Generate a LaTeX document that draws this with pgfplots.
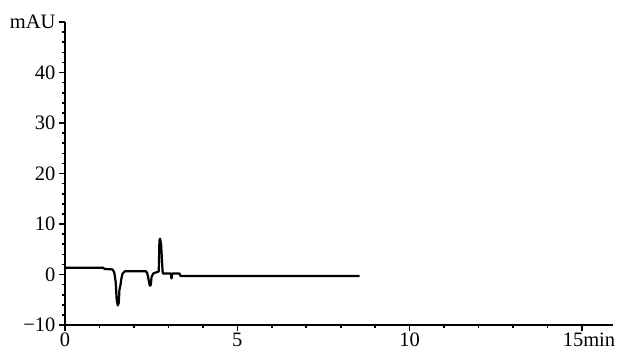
\documentclass[border=0pt]{standalone}
\usepackage{fontspec}
\setmainfont{Liberation Serif}
\usepackage{pgfplots}
\pgfplotsset{compat=1.18}
\begin{document}
\begin{tikzpicture}
\begin{axis}[
  scale only axis,
  width=548pt, height=303pt,
  xmin=0, xmax=15.9, ymin=-10, ymax=50,
  axis x line*=bottom, axis y line*=left,
  axis line style={-, line width=2pt},
  xtick={0,5,10,15}, xticklabels={0,5,10,\hspace*{14pt}15min},
  ytick={-10,0,10,20,30,40,50}, yticklabels={−10,0,10,20,30,40,mAU},
  minor x tick num=4, minor y tick num=4,
  tick align=outside,
  major tick length=6pt, minor tick length=2.5pt,
  every tick/.style={black, line width=1.6pt},
  tick label style={font=\fontsize{20.5}{24}\selectfont},
  xticklabel style={yshift=1.5pt},
  /pgf/number format/assume math mode=true,
  clip=false,
]
\addplot[black, line width=2.2pt, line join=round] coordinates {
(0,1.35) (1.1,1.35) (1.15,1.1) (1.38,1.0) (1.43,0.4) (1.47,-1.5) (1.5,-5.0) (1.53,-6.1) (1.56,-5.6)
(1.58,-3.0) (1.61,-2.1) (1.63,-1.0) (1.67,0.2) (1.74,0.65) (2.35,0.65) (2.39,0.2) (2.43,-1.2)
(2.46,-2.2) (2.49,-2.1) (2.51,-0.5) (2.56,0.2) (2.68,0.5) (2.72,0.6) (2.74,6.8) (2.76,7.1)
(2.79,5.8) (2.81,3.2) (2.83,0.8) (2.84,0.2) (3.07,0.2) (3.09,-0.8) (3.11,0.2) (3.32,0.2)
(3.35,-0.3) (8.55,-0.3)
};
\end{axis}
\pgfresetboundingbox
\useasboundingbox (-65pt,-28pt) rectangle (553pt,325pt);
\end{tikzpicture}
\end{document}
